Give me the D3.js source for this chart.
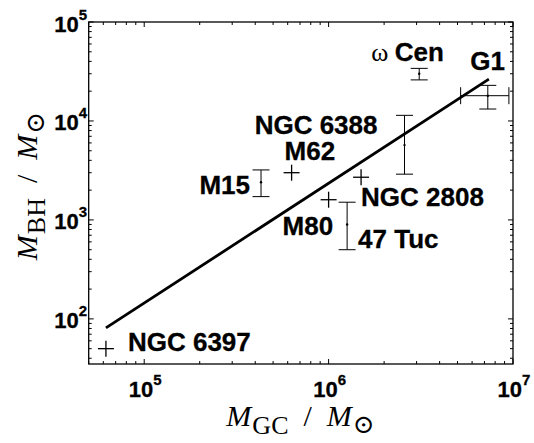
<!DOCTYPE html>
<html>
<head>
<meta charset="utf-8">
<script src="https://cdn.jsdelivr.net/npm/d3@7"></script>
<style>
  body { margin: 0; background: #fff; }
</style>
</head>
<body>
<svg id="chart" width="534" height="443"></svg>
<script>
// data
const clusters = ["NGC 6397", "M15", "M62", "M80", "47 Tuc", "NGC 2808", "NGC 6388", "ω Cen", "G1"];
const massGC = [6.2e4, 4.3e5, 6.3e5, 1.0e6, 1.26e6, 1.5e6, 2.58e6, 3.1e6, 7.3e6];
const massBH = [50, 2.4e3, 3.0e3, 1.6e3, 9.0e2, 2.7e3, 5.7e3, 3.0e4, 1.8e4];
const bhLow  = [null, 1.72e3, null, null, 5.0e2, null, 2.9e3, 2.6e4, 1.32e4];
const bhHigh = [null, 3.2e3, null, null, 1.51e3, null, 1.14e4, 3.4e4, 2.29e4];
const gcLow  = [null, null, null, null, null, null, null, null, 5.2e6];
const gcHigh = [null, null, null, null, null, null, null, null, 9.5e6];

// fitted relation
const fitGC = [6.2e4, 7.4e6];
const fitBH = [81, 2.65e4];

const xTicks = [1e5, 1e6, 1e7];
const yTicks = [1e2, 1e3, 1e4, 1e5];

const svg = d3.select("#chart");
const plotL = 88.7, plotR = 513, plotT = 22, plotB = 364;

const x = d3.scaleLog().domain([5e4, 1e7]).range([plotL, plotR]);
const y = d3.scaleLog().domain([35, 1e5]).range([plotB, plotT]);

const sans = "'Liberation Sans', Arial, Helvetica, sans-serif";
const serif = "'Liberation Serif', 'Times New Roman', 'DejaVu Serif', serif";

// frame
svg.append("rect")
  .attr("x", plotL).attr("y", plotT)
  .attr("width", plotR - plotL).attr("height", plotB - plotT)
  .attr("fill", "none").attr("stroke", "#000").attr("stroke-width", 1.3);

// inward ticks on all four sides
const isMajor = v => Math.abs(Math.log10(v) - Math.round(Math.log10(v))) < 1e-6;
const ticks = svg.append("g").attr("stroke", "#000").attr("stroke-width", 1);

x.ticks().forEach(v => {
  const len = isMajor(v) ? 5 : 3;
  const px = x(v);
  ticks.append("line").attr("x1", px).attr("x2", px).attr("y1", plotB).attr("y2", plotB - len);
  ticks.append("line").attr("x1", px).attr("x2", px).attr("y1", plotT).attr("y2", plotT + len);
});
y.ticks().forEach(v => {
  const len = isMajor(v) ? 5 : 3;
  const py = y(v);
  ticks.append("line").attr("y1", py).attr("y2", py).attr("x1", plotL).attr("x2", plotL + len);
  ticks.append("line").attr("y1", py).attr("y2", py).attr("x1", plotR).attr("x2", plotR - len);
});

// tick labels: 10 with superscript exponent
function powerLabel(sel, v) {
  sel.append("tspan").text("10");
  sel.append("tspan")
    .attr("font-size", 15)
    .attr("dy", -12)
    .text(Math.round(Math.log10(v)));
}

xTicks.forEach(v => {
  const t = svg.append("text")
    .attr("x", x(v) + 1).attr("y", 397)
    .attr("text-anchor", "middle")
    .attr("font-family", sans).attr("font-weight", "bold").attr("font-size", 22)
    .attr("stroke", "#000").attr("stroke-width", 0.3);
  powerLabel(t, v);
});
yTicks.forEach(v => {
  const t = svg.append("text")
    .attr("x", 87).attr("y", y(v) + 9.5)
    .attr("text-anchor", "end")
    .attr("font-family", sans).attr("font-weight", "bold").attr("font-size", 22)
    .attr("stroke", "#000").attr("stroke-width", 0.3);
  powerLabel(t, v);
});

// axis titles
function massTitle(sel, sub) {
  sel.append("tspan").attr("font-style", "italic").text("M");
  sel.append("tspan").attr("font-size", 26).attr("dx", 1).attr("dy", 8).text(sub);
  sel.append("tspan").attr("dx", 15).attr("dy", -8).text("/");
  sel.append("tspan").attr("dx", 15).attr("font-style", "italic").text("M");
  sel.append("tspan").attr("font-size", 26).attr("dx", 1).attr("dy", 7).text("⊙");
}
const xt = svg.append("text")
  .attr("x", 300.5).attr("y", 426)
  .attr("text-anchor", "middle")
  .attr("font-family", serif).attr("font-size", 30);
massTitle(xt, "GC");

const yt = svg.append("text")
  .attr("transform", "translate(37,186) rotate(-90)")
  .attr("text-anchor", "middle")
  .attr("font-family", serif).attr("font-size", 30);
massTitle(yt, "BH");

// fit line
svg.append("path")
  .datum(d3.zip(fitGC, fitBH))
  .attr("d", d3.line().x(d => x(d[0])).y(d => y(d[1])))
  .attr("fill", "none").attr("stroke", "#000").attr("stroke-width", 2.8);

// points: crosses where no error, error bars otherwise
const marks = svg.append("g").attr("stroke", "#000").attr("fill", "none");
const cap = 8.5, arm = 8;

clusters.forEach((name, i) => {
  const px = x(massGC[i]), py = y(massBH[i]);
  if (bhLow[i] === null && gcLow[i] === null) {
    marks.append("line").attr("x1", px - arm).attr("x2", px + arm).attr("y1", py).attr("y2", py).attr("stroke-width", 1.3);
    marks.append("line").attr("x1", px).attr("x2", px).attr("y1", py - arm).attr("y2", py + arm).attr("stroke-width", 1.3);
    return;
  }
  if (bhLow[i] !== null) {
    const y0 = y(bhLow[i]), y1 = y(bhHigh[i]);
    marks.append("line").attr("x1", px).attr("x2", px).attr("y1", y0).attr("y2", y1).attr("stroke-width", 1);
    marks.append("line").attr("x1", px - cap).attr("x2", px + cap).attr("y1", y0).attr("y2", y0).attr("stroke-width", 1);
    marks.append("line").attr("x1", px - cap).attr("x2", px + cap).attr("y1", y1).attr("y2", y1).attr("stroke-width", 1);
  }
  if (gcLow[i] !== null) {
    const x0 = x(gcLow[i]), x1 = x(gcHigh[i]);
    marks.append("line").attr("x1", x0).attr("x2", x1).attr("y1", py).attr("y2", py).attr("stroke-width", 1);
    marks.append("line").attr("x1", x0).attr("x2", x0).attr("y1", py - cap).attr("y2", py + cap).attr("stroke-width", 1);
    marks.append("line").attr("x1", x1).attr("x2", x1).attr("y1", py - cap).attr("y2", py + cap).attr("stroke-width", 1);
  }
  // small centre dot
  svg.append("circle").attr("cx", px).attr("cy", py).attr("r", 1.2).attr("fill", "#000");
});

// labels, placed relative to their points
const labelPlace = {
  "NGC 6397": [22, 2, "start"],
  "M15": [-11, 12, "end"],
  "M62": [-7, -13, "start"],
  "M80": [4.5, 35, "end"],
  "47 Tuc": [11, 23.5, "start"],
  "NGC 2808": [0, 28.5, "start"],
  "NGC 6388": [-27, -11.5, "end"],
  "ω Cen": [-48, -13, "start"],
  "G1": [-17.5, -25.7, "start"]
};

clusters.forEach((name, i) => {
  const [dx, dy, anchor] = labelPlace[name];
  const t = svg.append("text")
    .attr("x", x(massGC[i]) + dx).attr("y", y(massBH[i]) + dy)
    .attr("text-anchor", anchor)
    .attr("font-family", sans).attr("font-weight", "bold").attr("font-size", 26)
    .attr("stroke", "#000").attr("stroke-width", 0.3);
  if (name.startsWith("ω")) {
    t.append("tspan").attr("font-family", serif).attr("font-weight", "normal").attr("stroke-width", 0).text("ω ");
    t.append("tspan").text(name.slice(2));
  } else {
    t.text(name);
  }
});
</script>
</body>
</html>
